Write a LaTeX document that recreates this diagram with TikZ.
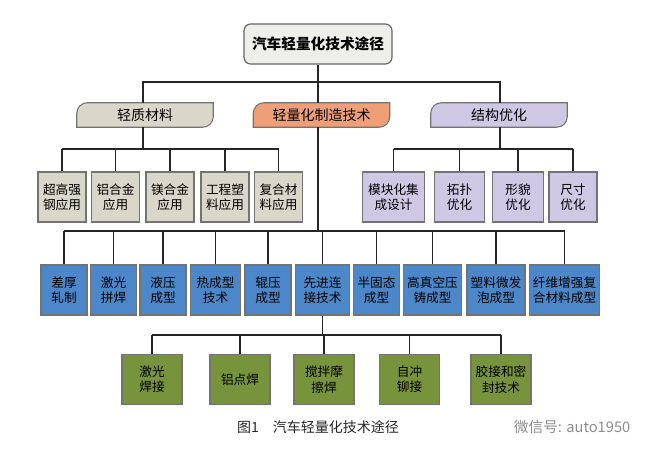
\documentclass[tikz,border=0pt]{standalone}
\usepackage{fontspec}
\setmainfont{Noto Sans CJK SC}
\usetikzlibrary{backgrounds}
\definecolor{cgray}{HTML}{D9D7C9}
\definecolor{corange}{HTML}{EE9F77}
\definecolor{clav}{HTML}{CFC8E4}
\definecolor{cblue}{HTML}{4C87C9}
\definecolor{cgreen}{HTML}{77933C}
\definecolor{croot}{HTML}{EEEEEA}
\tikzset{
  line/.style={draw=black!85, line width=0.9pt},
  rootbox/.style={draw=black!60, line width=0.9pt, fill=croot, rounded corners=5pt, minimum width=111pt, minimum height=30pt, font=\fontsize{11}{12}\selectfont\bfseries},
  lvltwo/.style={minimum width=102pt, minimum height=18pt, font=\fontsize{10.5}{12}\selectfont},
  smallbox/.style={draw=black!55, line width=0.8pt, minimum height=37.5pt, inner sep=1pt, align=center, font=\fontsize{9.5}{11.5}\selectfont},
  matbox/.style={smallbox, fill=cgray},
  strbox/.style={smallbox, fill=clav},
  bluebox/.style={smallbox, fill=cblue, minimum height=37.5pt},
  greenbox/.style={smallbox, fill=cgreen, minimum width=45pt, minimum height=37pt},
}
\newcommand{\tabshape}[2]{%
  \filldraw[fill=#2, draw=black!55, line width=0.8pt]
    (#1.south west) -- ([yshift=-8pt]#1.north west)
    arc[start angle=180,end angle=90,radius=8pt] -- (#1.north east)
    -- ([yshift=8pt]#1.south east) arc[start angle=0,end angle=-90,radius=8pt] -- cycle;}
\begin{document}
\begin{tikzpicture}[x=0.75pt,y=-0.75pt]
\useasboundingbox (0,0) rectangle (648,457);
% root
\node[rootbox] (root) at (318,44) {汽车轻量化技术途径};
% level 2
\node[lvltwo] (mat) at (145,115) {轻质材料};
\node[lvltwo] (mfg) at (321.5,115) {轻量化制造技术};
\node[lvltwo] (str) at (499,115) {结构优化};
\begin{scope}[on background layer]
\tabshape{mat}{cgray}
\tabshape{mfg}{corange}
\tabshape{str}{clav}
\end{scope}
% materials
\node[matbox, minimum width=36pt] (m1) at (62,197) {超高强\\钢应用};
\node[matbox, minimum width=36pt] (m2) at (115.5,197) {铝合金\\应用};
\node[matbox, minimum width=36pt] (m3) at (170,197) {镁合金\\应用};
\node[matbox, minimum width=36pt] (m4) at (225,197) {工程塑\\料应用};
\node[matbox, minimum width=36pt] (m5) at (278.5,197) {复合材\\料应用};
% structure
\node[strbox, minimum width=47pt] (s1) at (393.5,197) {模块化集\\成设计};
\node[strbox, minimum width=38pt] (s2) at (459.5,197) {拓扑\\优化};
\node[strbox, minimum width=38pt] (s3) at (518,197) {形貌\\优化};
\node[strbox, minimum width=36pt] (s4) at (573,197) {尺寸\\优化};
% blue
\node[bluebox, minimum width=34.5pt] (b1) at (64,290) {差厚\\轧制};
\node[bluebox, minimum width=34pt] (b2) at (113.5,290) {激光\\拼焊};
\node[bluebox, minimum width=34.5pt] (b3) at (163,290) {液压\\成型};
\node[bluebox, minimum width=38pt] (b4) at (215.5,290) {热成型\\技术};
\node[bluebox, minimum width=34.5pt] (b5) at (268,290) {辊压\\成型};
\node[bluebox, minimum width=40pt] (b6) at (322.5,290) {先进连\\接技术};
\node[bluebox, minimum width=34pt] (b7) at (376.5,290) {半固态\\成型};
\node[bluebox, minimum width=44pt] (b8) at (432.5,290) {高真空压\\铸成型};
\node[bluebox, minimum width=43.5pt] (b9) at (496,290) {塑料微发\\泡成型};
\node[bluebox, minimum width=53pt] (b10) at (564.5,290) {纤维增强复\\合材料成型};
% green
\node[greenbox] (g1) at (152,379.5) {激光\\焊接};
\node[greenbox] (g2) at (240,379.5) {铝点焊};
\node[greenbox] (g3) at (324,379.5) {搅拌摩\\擦焊};
\node[greenbox] (g4) at (409.5,379.5) {自冲\\铆接};
\node[greenbox] (g5) at (501,379.5) {胶接和密\\封技术};
% connectors
\coordinate (busA) at (0,82);
\coordinate (busB) at (0,149);
\coordinate (busC) at (0,231);
\coordinate (busD) at (0,335);
\draw[line] (root.south) -- (root.south |- busA);
\draw[line] (mat.north -| 143,0) -- (143,82) -- (500,82) -- (str.north -| 500,0);
\draw[line] (318,82) -- (mfg.north -| 318,0);
\draw[line] (mat.south -| 143,0) -- (143,149);
\draw[line] (m1.north |- busB) -- (m5.north |- busB);
\foreach \n in {m1,m2,m3,m4,m5} \draw[line] (\n.north) -- (\n.north |- busB);
\draw[line] (str.south -| 500,0) -- (500,149);
\draw[line] (s1.north |- busB) -- (s4.north |- busB);
\foreach \n in {s1,s2,s3,s4} \draw[line] (\n.north) -- (\n.north |- busB);
\draw[line] (mfg.south -| 318,0) -- (318,231);
\draw[line] (b1.north |- busC) -- (b10.north |- busC);
\foreach \n in {b1,b2,b3,b4,b5,b6,b7,b8,b9,b10} \draw[line] (\n.north) -- (\n.north |- busC);
\draw[line] (b6.south) -- (b6.south |- busD);
\draw[line] (g1.north |- busD) -- (g5.north |- busD);
\foreach \n in {g1,g2,g3,g4,g5} \draw[line] (\n.north) -- (\n.north |- busD);
% caption
\node[font=\fontsize{10.5}{12}\selectfont, text=black!85] (cap) at (318,427) {图1\quad 汽车轻量化技术途径};
\node[font=\fontsize{11}{12}\selectfont, text=black!45, anchor=east] (wm) at (635,427) {微信号: auto1950};
\end{tikzpicture}
\end{document}
